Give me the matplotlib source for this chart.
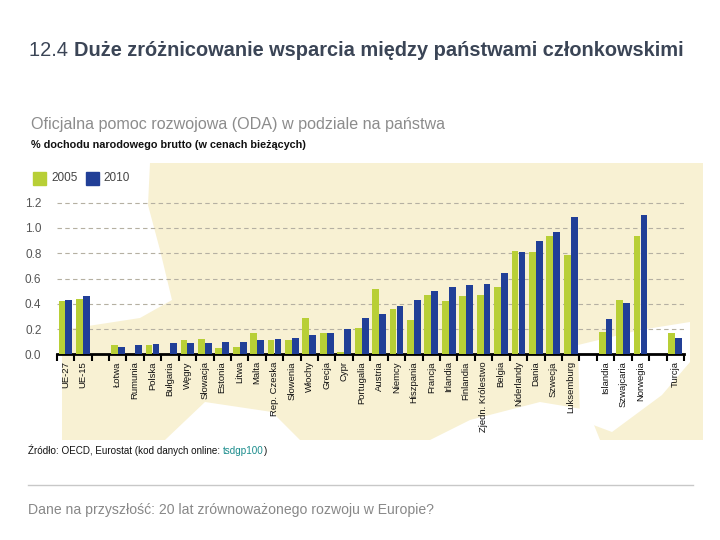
import numpy as np
import matplotlib
matplotlib.use("Agg")
import matplotlib.pyplot as plt
from matplotlib.patches import Polygon, Rectangle

plt.rcParams['font.family'] = ['Liberation Sans', 'DejaVu Sans']

# =========================================
# DATA
# =========================================

countries = [
    "UE-27", "UE-15", "",
    "Łotwa", "Rumunia", "Polska", "Bułgaria", "Węgry", "Słowacja",
    "Estonia", "Litwa", "Malta", "Rep. Czeska", "Słowenia", "Włochy",
    "Grecja", "Cypr", "Portugalia", "Austria", "Niemcy", "Hiszpania",
    "Francja", "Irlandia", "Finlandia", "Zjedn. Królestwo", "Belgia",
    "Niderlandy", "Dania", "Szwecja", "Luksemburg", "",
    "Islandia", "Szwajcaria", "Norwegia", "",
    "Turcja"
]

nan = np.nan

oda_2005 = [
    0.42, 0.44, nan,
    0.07, nan, 0.07, nan, 0.11, 0.12,
    0.05, 0.06, 0.17, 0.11, 0.11, 0.29,
    0.17, 0.02, 0.21, 0.52, 0.36, 0.27,
    0.47, 0.42, 0.46, 0.47, 0.53,
    0.82, 0.81, 0.94, 0.79, nan,
    0.18, 0.43, 0.94, nan,
    0.17
]

oda_2010 = [
    0.43, 0.46, nan,
    0.06, 0.07, 0.08, 0.09, 0.09, 0.09,
    0.10, 0.10, 0.11, 0.12, 0.13, 0.15,
    0.17, 0.20, 0.29, 0.32, 0.38, 0.43,
    0.50, 0.53, 0.55, 0.56, 0.64,
    0.81, 0.90, 0.97, 1.09, nan,
    0.28, 0.41, 1.10, nan,
    0.13
]

y_ticks = [0.0, 0.2, 0.4, 0.6, 0.8, 1.0, 1.2]
years = ["2005", "2010"]

GREEN = "#b8cf36"
BLUE = "#213f97"
BEIGE = "#f8f1d3"

W, H = 720, 540


def fx(px):
    return px / W


def fy(py):
    return 1 - py / H


fig = plt.figure(figsize=(7.2, 5.4), dpi=100)

# =========================================
# BACKGROUND MAP (rough land shape)
# =========================================

land = [
    (150, 163), (703, 163), (703, 440), (600, 440), (588, 410),
    (540, 402), (470, 420), (430, 440), (300, 440), (272, 412),
    (205, 402), (165, 440), (62, 440), (62, 330), (140, 318),
    (172, 300), (160, 250), (148, 205)
]
fig.add_artist(Polygon(
    [(fx(x), fy(y)) for x, y in land],
    closed=True, transform=fig.transFigure,
    facecolor=BEIGE, edgecolor="none", zorder=0
))

sea = [
    (578, 345), (640, 330), (690, 322), (690, 362), (662, 395),
    (612, 432), (580, 420)
]
fig.add_artist(Polygon(
    [(fx(x), fy(y)) for x, y in sea],
    closed=True, transform=fig.transFigure,
    facecolor="white", edgecolor="none", zorder=0
))

# =========================================
# CHART
# =========================================

ax = fig.add_axes([fx(56.7), fy(354.3), fx(684 - 56.7), (354.3 - 196.4) / H])
ax.set_facecolor("none")
ax.set_zorder(2)

n = len(countries)
centers = np.arange(n) + 0.5

ax.bar(centers - 0.2, oda_2005, width=0.39, color=GREEN, zorder=3)
ax.bar(centers + 0.2, oda_2010, width=0.39, color=BLUE, zorder=3)

ax.set_xlim(0, n)
ax.set_ylim(0, 1.25)

ax.set_yticks(y_ticks)
ax.set_yticklabels(["%.1f" % v for v in y_ticks], fontsize=8.5, color="#555555")
ax.tick_params(axis="y", length=0, pad=11)

for v in y_ticks[1:]:
    ax.axhline(v, color="#b5b0a2", lw=0.8, dashes=(4, 3), zorder=1)

ax.set_xticks(centers)
ax.set_xticklabels(countries, rotation=90, fontsize=6.8, color="#111111")
ax.tick_params(axis="x", which="major", length=0, pad=5)
ax.set_xticks(np.arange(n + 1), minor=True)
ax.tick_params(axis="x", which="minor", length=5, width=1.5,
               direction="out", color="black")

for side in ["top", "right", "left"]:
    ax.spines[side].set_visible(False)
ax.spines["bottom"].set_linewidth(2)
ax.spines["bottom"].set_color("black")

# =========================================
# LEGEND
# =========================================

fig.add_artist(Rectangle((fx(33), fy(185)), 13 / W, 13 / H,
                         transform=fig.transFigure, color=GREEN, zorder=3))
fig.text(fx(51), fy(178.5), years[0], fontsize=8.5, color="#444444",
         va="center", ha="left")
fig.add_artist(Rectangle((fx(86), fy(185)), 13 / W, 13 / H,
                         transform=fig.transFigure, color=BLUE, zorder=3))
fig.text(fx(103), fy(178.5), years[1], fontsize=8.5, color="#444444",
         va="center", ha="left")

# =========================================
# TEXTS
# =========================================

t1 = fig.text(fx(29), fy(50), "12.4 ", fontsize=14.4, color="#3b4556",
              va="center", ha="left")
plt.annotate("Duże zróżnicowanie wsparcia między państwami członkowskimi",
             xy=(1, 0), xycoords=t1, va="bottom", ha="left",
             fontsize=14.4, fontweight="bold", color="#3b4556")

fig.text(fx(31), fy(124), "Oficjalna pomoc rozwojowa (ODA) w podziale na państwa",
         fontsize=11.6, color="#8c8c8c", va="center", ha="left")
fig.text(fx(31), fy(145), "% dochodu narodowego brutto (w cenach bieżących)",
         fontsize=7.8, fontweight="bold", color="#111111", va="center", ha="left")

s1 = fig.text(fx(28), fy(450), "Źródło: OECD, Eurostat (kod danych online: ",
              fontsize=7.1, color="#111111", va="center", ha="left")
s2 = plt.annotate("tsdgp100", xy=(1, 0), xycoords=s1, va="bottom", ha="left",
                  fontsize=7.1, color="#1a8c8c")
plt.annotate(")", xy=(1, 0), xycoords=s2, va="bottom", ha="left",
             fontsize=7.1, color="#111111")

fig.add_artist(plt.Line2D([fx(28), fx(693)], [fy(485), fy(485)],
                          transform=fig.transFigure, color="#c8c8c8", lw=1))

fig.text(fx(28), fy(510), "Dane na przyszłość: 20 lat zrównoważonego rozwoju w Europie?",
         fontsize=10.1, color="#888888", va="center", ha="left")

fig.savefig("out.png", dpi=100)
plt.close(fig)
